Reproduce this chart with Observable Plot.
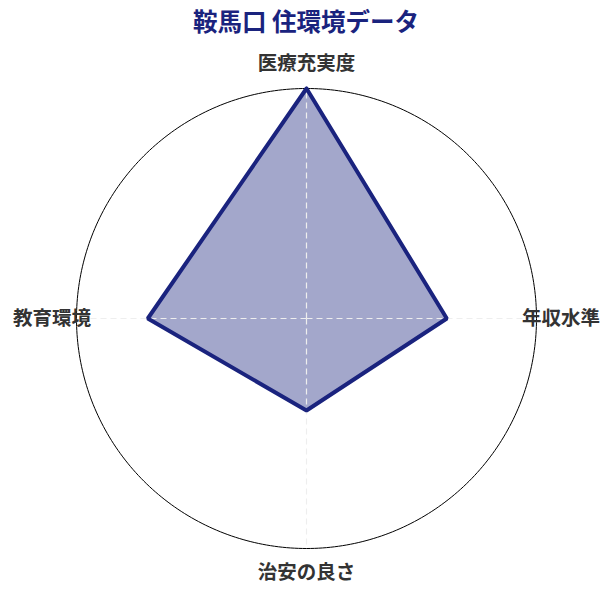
<!DOCTYPE html>
<html>
<head>
<meta charset="utf-8">
<script src="https://cdn.jsdelivr.net/npm/d3@7"></script>
<script src="https://cdn.jsdelivr.net/npm/@observablehq/plot@0.6"></script>
<style>
  html, body { margin: 0; padding: 0; background: #fff; }
  body { width: 612px; font-family: "Noto Sans CJK JP", "Noto Sans", sans-serif; }
  #title { height: 40px; line-height: 41px; text-align: center; font-size: 24.5px; font-weight: 700; color: #1a237e; }
  svg { display: block; }
</style>
</head>
<body>
<div id="title">鞍馬口 住環境データ</div>
<div id="chart"></div>
<script>
const categories = ["医療充実度", "年収水準", "治安の良さ", "教育環境"];
const values = [100, 61, 40, 69];
const maxValue = 100;

const n = categories.length;
const angle = i => (i * 2 * Math.PI) / n;
const pts = categories.map((c, i) => ({
  cat: c,
  x: (values[i] / maxValue) * Math.sin(angle(i)),
  y: (values[i] / maxValue) * Math.cos(angle(i))
}));
const polygon = [...pts, pts[0]];
const spokes = categories.map((c, i) => ({ x1: 0, y1: 0, x2: Math.sin(angle(i)), y2: Math.cos(angle(i)) }));
const labels = categories.map((c, i) => ({ cat: c, x: 1.107 * Math.sin(angle(i)), y: 1.107 * Math.cos(angle(i)) }));
const circle = d3.range(0, 361).map(d => ({ x: Math.sin(d * Math.PI / 180), y: Math.cos(d * Math.PI / 180) }));

const chart = Plot.plot({
  width: 612,
  height: 555,
  x: { domain: [-1, 1], range: [76, 536], axis: null },
  y: { domain: [-1, 1], range: [508, 48], axis: null },
  style: { fontFamily: "'Noto Sans CJK JP', sans-serif", background: "#fff" },
  marks: [
    Plot.line(circle, { x: "x", y: "y", stroke: "#000", strokeWidth: 1 }),
    Plot.line(polygon, { x: "x", y: "y", fill: "#1a237e", fillOpacity: 0.4, stroke: "none" }),
    Plot.link(spokes, { x1: "x1", y1: "y1", x2: "x2", y2: "y2", stroke: "#eee", strokeWidth: 1.2, strokeDasharray: "6,4" }),
    Plot.line(polygon, { x: "x", y: "y", stroke: "#1a237e", strokeWidth: 4, strokeLinejoin: "miter" }),
    Plot.text(labels, { x: "x", y: "y", text: "cat", fontSize: 19.5, fontWeight: 700, fill: "#333", textAnchor: "middle" })
  ]
});
document.getElementById("chart").appendChild(chart);
</script>
</body>
</html>
